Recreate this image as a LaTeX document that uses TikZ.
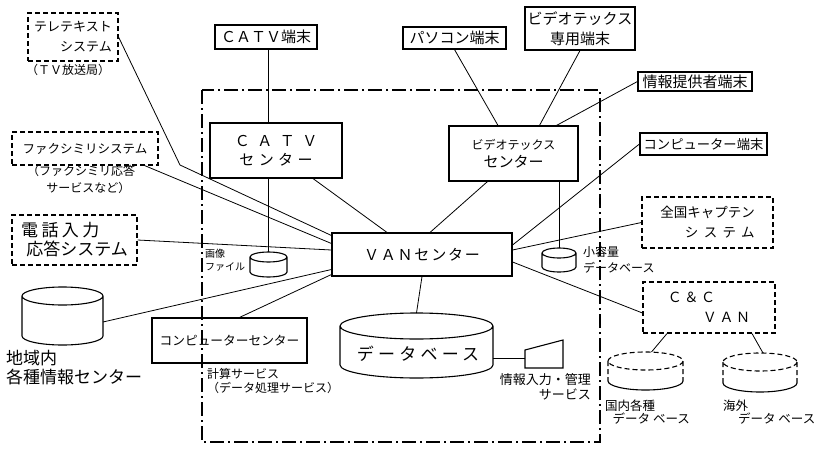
\documentclass[tikz,border=0pt]{standalone}
\usepackage{fontspec}
\setmainfont{Noto Sans CJK JP}

\newcommand\setsz[2]{\fontsize{#1}{#2}\selectfont}

\tikzset{
  box/.style={draw, line width=1.1pt, inner sep=1pt, align=center},
  dbox/.style={box, dash pattern=on 5pt off 3pt},
  link/.style={line width=0.8pt},
  cyl/.style={line width=1.1pt},
  dcyl/.style={cyl, dash pattern=on 5pt off 3pt},
  note/.style={inner sep=0pt, align=left},
  frame/.style={line width=1.1pt, dash pattern=on 14pt off 4pt on 2pt off 4pt},
}

\begin{document}
\begin{tikzpicture}[x=1pt,y=-1pt]
\useasboundingbox (0,0) rectangle (823,450);

\draw[frame] (202,90) rectangle (600,442);

\node[dbox, minimum width=90pt, minimum height=48pt, align=right, font=\setsz{13}{20}] at (73,37) (tele) {テレテキスト\\システム};
\node[note, anchor=west, font=\setsz{12}{14}] at (26,70) (telenote) {（ＴＶ放送局）};

\node[box, minimum width=102pt, minimum height=24pt, font=\setsz{15}{17}] at (266,37) (catvterm) {ＣＡＴＶ端末};
\node[box, minimum width=103pt, minimum height=22pt, font=\setsz{15}{17}] at (454.5,38) (pasocon) {パソコン端末};
\node[box, minimum width=110pt, minimum height=43pt, font=\setsz{15}{20}] at (580,28.5) (vtxterm) {ビデオテックス\\専用端末};
\node[box, minimum width=114pt, minimum height=19pt, font=\setsz{15}{17}] at (695,81.5) (provider) {情報提供者端末};
\node[box, minimum width=127pt, minimum height=22pt, font=\setsz{13.3}{16}] at (703.5,144) (compterm) {コンピューター端末};

\node[box, minimum width=132pt, minimum height=55pt, font=\setsz{15}{19}] at (276,150.5) (catvctr) {{\addfontfeature{LetterSpace=50}ＣＡＴＶ}\\{\addfontfeature{LetterSpace=29}センター}};
\node[box, minimum width=129pt, minimum height=55pt, font=\setsz{12}{18}] at (513.5,153.5) (vtxctr) {ビデオテックス\\{\setsz{15}{18}センター}};

\node[dbox, minimum width=146pt, minimum height=33pt, font=\setsz{12.5}{15}] at (85,148.5) (fax) {ファクシミリシステム};
\node[note, anchor=north west, font=\setsz{12}{17}] at (27,165) (faxnote) {（ファクシミリ応答\\\hspace*{1.6em}サービスなど）};
\node[dbox, minimum width=125pt, minimum height=50pt, align=left, font=\setsz{17}{19}] at (74.5,240) (denwa) {{\addfontfeature{LetterSpace=20}電話入力}\\\hspace*{0.3em}応答システム};

% gazo file
\draw[cyl] (268.5,257) ellipse [x radius=18.5, y radius=5] (250,257) -- (250,272) arc [start angle=180, end angle=0, x radius=18.5, y radius=5] -- (287,257);
\coordinate (gazo) at (268.5,252);
\node[note, anchor=north west, font=\setsz{10}{13}] at (205,249) (gazonote) {画像\\ファイル};

\node[box, minimum width=180pt, minimum height=43pt, font={\setsz{15}{17}\addfontfeature{LetterSpace=12}}] at (422,254.5) (van) {ＶＡＮセンター};

% shoyoryo
\draw[cyl] (559,253) ellipse [x radius=17, y radius=5] (542,253) -- (542,267) arc [start angle=180, end angle=0, x radius=17, y radius=5] -- (576,253);
\coordinate (shoyo) at (559,248);
\node[note, anchor=north west, font=\setsz{12}{16}] at (583,246) (shoyonote) {小容量\\データベース};

\node[dbox, minimum width=131pt, minimum height=51pt, align=right, font=\setsz{13.5}{20}] at (707.5,222.5) (zenkoku) {全国キャプテン\\{\addfontfeature{LetterSpace=40}システム}};
\node[dbox, minimum width=132pt, minimum height=51pt, align=left, font={\setsz{14}{20}\addfontfeature{LetterSpace=18}}] at (709,307.5) (cc) {Ｃ＆Ｃ\\\hspace*{35pt}ＶＡＮ};

% database
\draw[cyl] (416.5,326) ellipse [x radius=76.5, y radius=13] (340,326) -- (340,365) arc [start angle=180, end angle=0, x radius=76.5, y radius=13] -- (493,326);
\coordinate (dbtop) at (416.5,313);
\coordinate (dbside) at (493,358);
\node[inner sep=0pt, font={\setsz{17}{19}\addfontfeature{LetterSpace=25}}] at (418,354) (db) {データベース};

\node[box, minimum width=155pt, minimum height=45pt, font=\setsz{12.7}{15}] at (229.5,340.5) (compctr) {コンピューターセンター};
\node[note, anchor=north west, font=\setsz{12}{14}] at (207,368) (compnote) {計算サービス\\（データ処理サービス）};

% chiiki
\draw[cyl] (62.5,296) ellipse [x radius=40.5, y radius=9] (22,296) -- (22,336) arc [start angle=180, end angle=0, x radius=40.5, y radius=9] -- (103,296);
\coordinate (chiiki) at (103,322);
\node[note, anchor=north west, font=\setsz{17}{19}] at (6,350) (chiikinote) {地域内\\各種情報センター};

\draw[cyl] (525,350) -- (563,340) -- (563,368) -- (525,368) -- cycle;
\coordinate (kanri) at (525,358);
\node[note, anchor=north east, align=right, font=\setsz{13}{15}] at (591,373) (kanrinote) {情報入力・管理\\サービス};

\draw[dcyl] (645.5,361) ellipse [x radius=37.5, y radius=9] (608,361) -- (608,381) (683,361) -- (683,381);
\draw[cyl] (608,381) arc [start angle=180, end angle=0, x radius=37.5, y radius=9];
\coordinate (kokunai) at (645.5,352);
\node[note, anchor=north west, font=\setsz{12.5}{13}] at (605,400) (kokunainote) {国内各種\\\hspace*{0.6em}データ ベース};

\draw[dcyl] (760,362) ellipse [x radius=37, y radius=9] (723,362) -- (723,383) (797,362) -- (797,383);
\draw[cyl] (723,383) arc [start angle=180, end angle=0, x radius=37, y radius=9];
\coordinate (kaigai) at (760,353);
\node[note, anchor=north west, font=\setsz{12.5}{13}] at (723,400) (kaigainote) {海外\\\hspace*{1.2em}データ ベース};

\coordinate (telebend) at (180,165);
\draw[link] (tele.east) -- (telebend) -- ([yshift=19pt]van.west);
\draw[link] ([xshift=-14pt]fax.south east) -- ([yshift=11pt]van.west);
\draw[link] (denwa.east) -- ([yshift=4.5pt]van.west);
\draw[link] (chiiki) -- ([yshift=-15pt]van.west);
\draw[link] ([xshift=10pt]compctr.north) -- ([yshift=-20pt]van.west);
\draw[link] (gazo |- catvterm.south) -- (gazo |- catvctr.north);
\draw[link] (gazo |- catvctr.south) -- (gazo);
\draw[link] ([xshift=37pt]catvctr.south) -- ([xshift=-35pt]van.north);
\draw[link] (pasocon.south) -- ([xshift=-15.5pt]vtxctr.north);
\draw[link] (vtxterm.south) -- ([xshift=26pt]vtxctr.north);
\draw[link] (provider.west) -- ([xshift=43pt]vtxctr.north);
\draw[link] ([xshift=-26pt]vtxctr.south) -- ([xshift=8pt]van.north);
\draw[link] (shoyo |- vtxctr.south) -- (shoyo);
\draw[link] (compterm.west) -- ([yshift=9.5pt]van.east);
\draw[link] (zenkoku.west) -- ([yshift=4.5pt]van.east);
\draw[link] ([yshift=-5.5pt]cc.west) -- ([yshift=-7.5pt]van.east);
\draw[link] (van.south) -- (dbtop);
\draw[link] (dbside) -- (kanri);
\draw[link] ([xshift=-42pt]cc.south) -- ([xshift=6pt]kokunai);
\draw[link] ([xshift=43pt]cc.south) -- ([xshift=3pt]kaigai);
\end{tikzpicture}
\end{document}
